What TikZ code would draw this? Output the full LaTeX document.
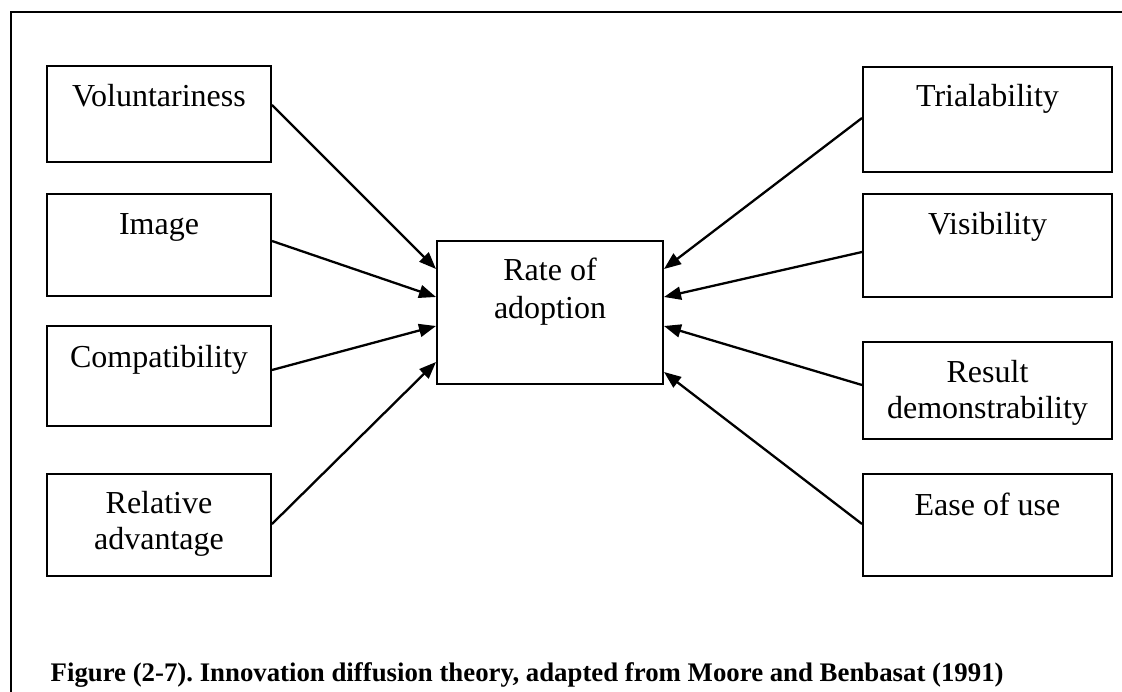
\documentclass[tikz,border=0pt]{standalone}
\usepackage{fontspec}
\setmainfont{Liberation Serif}
\usetikzlibrary{arrows.meta}
\frenchspacing
\begin{document}
\begin{tikzpicture}[x=1pt,y=-1pt,
  box/.style={draw, line width=2pt, inner sep=0pt, fill=white},
  lbl/.style={inner sep=0pt, anchor=base, font=\fontsize{32}{36}\selectfont},
  link/.style={line width=2.3pt, -{Triangle[length=17pt,width=13pt]}},
  frame/.style={line width=2.2pt}]
\useasboundingbox (0,0) rectangle (1122,692);

% open outer frame (left and top edges)
\coordinate (fb) at (11,693);
\coordinate (fc) at (11,12);
\coordinate (fr) at (1123,12);
\draw[frame] (fb) -- (fc) -- (fr);

% left column
\node[box, minimum width=224pt, minimum height=96pt]  (vol)  at (159,114) {};
\node[box, minimum width=224pt, minimum height=102pt] (img)  at (159,245) {};
\node[box, minimum width=224pt, minimum height=100pt] (comp) at (159,376) {};
\node[box, minimum width=224pt, minimum height=102pt] (rel)  at (159,525) {};

% centre
\node[box, minimum width=226pt, minimum height=143pt] (rate) at (550,312.5) {};

% right column
\node[box, minimum width=249pt, minimum height=105pt] (tri)  at (987.5,119.5) {};
\node[box, minimum width=249pt, minimum height=103pt] (vis)  at (987.5,245.5) {};
\node[box, minimum width=249pt, minimum height=97pt]  (res)  at (987.5,390.5) {};
\node[box, minimum width=249pt, minimum height=102pt] (ease) at (987.5,525) {};

% box texts
\node[lbl] (vol-t)   at (vol.center |- 0,107) {Voluntariness};
\node[lbl] (img-t)   at (img.center |- 0,235) {Image};
\node[lbl] (comp-t)  at (comp.center |- 0,368) {Compatibility};
\node[lbl] (rel-t1)  at (rel.center |- 0,513) {Relative};
\node[lbl] (rel-t2)  at (rel.center |- 0,549) {advantage};
\node[lbl] (rate-t1) at (rate.center |- 0,281) {Rate of};
\node[lbl] (rate-t2) at (rate.center |- 0,319) {adoption};
\node[lbl] (tri-t)   at (tri.center |- 0,107) {Trialability};
\node[lbl] (vis-t)   at (vis.center |- 0,235) {Visibility};
\node[lbl] (res-t1)  at (res.center |- 0,383) {Result};
\node[lbl] (res-t2)  at (res.center |- 0,419) {demonstrability};
\node[lbl] (ease-t)  at (ease.center |- 0,515) {Ease of use};

% connectors into the centre box
\draw[link] (vol.east |- 0,105)  -- (rate.west |- 0,269);
\draw[link] (img.east |- 0,241)  -- (rate.west |- 0,297);
\draw[link] (comp.east |- 0,370) -- (rate.west |- 0,326);
\draw[link] (rel.east |- 0,524)  -- (rate.west |- 0,362);
\draw[link] (tri.west |- 0,118)  -- (rate.east |- 0,269);
\draw[link] (vis.west |- 0,252)  -- (rate.east |- 0,297);
\draw[link] (res.west |- 0,385)  -- (rate.east |- 0,326);
\draw[link] (ease.west |- 0,524) -- (rate.east |- 0,372);

% caption
\node[inner sep=0pt, anchor=base west, font=\fontsize{26.8}{30}\selectfont\bfseries] (caption) at (50.5,681)
  {Figure (2-7). Innovation diffusion theory, adapted from Moore and Benbasat (1991)};
\end{tikzpicture}
\end{document}
